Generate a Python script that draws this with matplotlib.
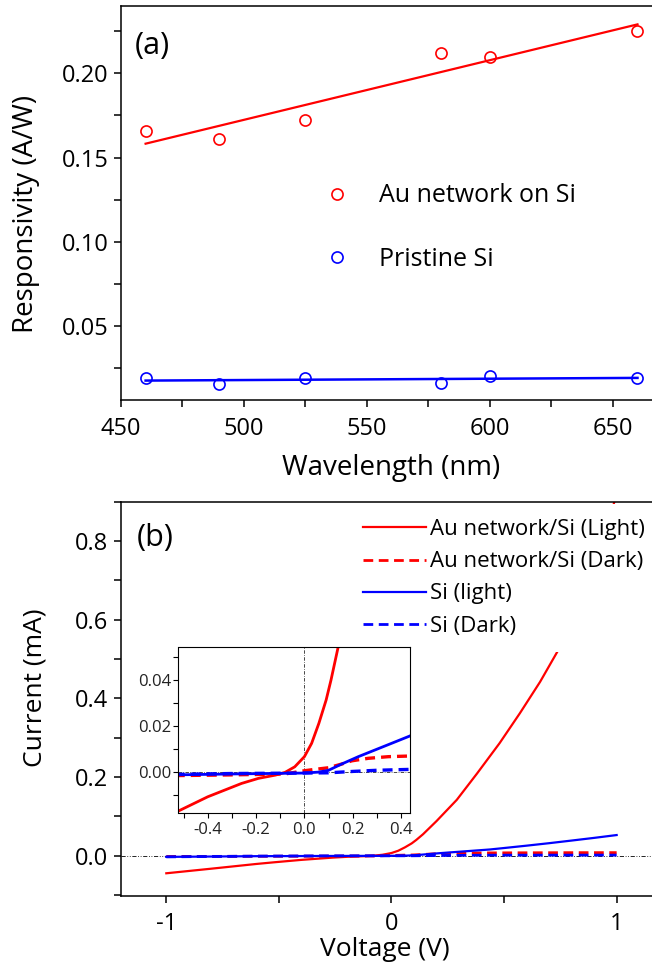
# Responsivity vs wavelength (a) and I-V curves (b)
import numpy as np
import matplotlib
matplotlib.use('Agg')
import matplotlib.pyplot as plt
from matplotlib.ticker import MultipleLocator

plt.rcParams['font.family'] = ['Open Sans', 'DejaVu Sans']

# (a) responsivity data
wavelength = [460, 490, 525, 580, 600, 660]
resp_au = [0.166, 0.161, 0.172, 0.212, 0.210, 0.225]
resp_si = [0.0192, 0.0153, 0.0192, 0.0163, 0.0204, 0.0192]

# (b) I-V data (V, mA)
v_au_light = [-1.0, -0.8, -0.6, -0.52, -0.40, -0.26, -0.19, -0.12, -0.08, -0.04,
              0.0, 0.03, 0.06, 0.09, 0.11, 0.14, 0.2, 0.29, 0.38, 0.48, 0.57,
              0.66, 0.76, 0.85, 0.92, 1.0]
i_au_light = [-0.0447, -0.033, -0.021, -0.0167, -0.0106, -0.0048, -0.0026, -0.0012,
              0.0, 0.0024, 0.0068, 0.0126, 0.0213, 0.0314, 0.040, 0.0545, 0.088,
              0.142, 0.209, 0.286, 0.362, 0.442, 0.542, 0.65, 0.76, 0.92]

v_au_dark = [-1.0, -0.6, -0.3, -0.08, 0.0, 0.044, 0.1, 0.154, 0.196, 0.265, 0.347,
             0.44, 0.6, 0.8, 1.0]
i_au_dark = [-0.002, -0.0015, -0.0011, -0.0007, 0.0007, 0.0013, 0.002, 0.0036,
             0.005, 0.0061, 0.0068, 0.0071, 0.0074, 0.0077, 0.0078]

v_si_light = [-1.0, -0.6, -0.3, 0.0, 0.058, 0.1, 0.154, 0.223, 0.292, 0.361,
              0.437, 0.5, 0.6, 0.7, 0.8, 0.9, 1.0]
i_si_light = [-0.003, -0.0012, -0.0007, -0.0003, 0.0001, 0.0009, 0.0036, 0.0068,
              0.0097, 0.0126, 0.0158, 0.0195, 0.0255, 0.0318, 0.0385, 0.0453, 0.0525]

v_si_dark = [-1.0, -0.6, -0.3, 0.0, 0.1, 0.2, 0.3, 0.44, 0.7, 1.0]
i_si_dark = [-0.003, -0.001, -0.0005, -0.0003, -0.0002, 0.0004, 0.0009, 0.0013,
             0.0014, 0.0015]

labels_b = ['Au network/Si (Light)', 'Au network/Si (Dark)', 'Si (light)', 'Si (Dark)']

RED = '#ff0000'
BLUE = '#0000ff'
DASH = (0, (3.5, 2.0))

W, H = 652, 968
fig = plt.figure(figsize=(W / 100, H / 100), dpi=100)
ax1 = fig.add_axes([121 / W, 1 - 400 / H, 531 / W, 394 / H])
ax2 = fig.add_axes([120.6 / W, 1 - 895.7 / H, 531.4 / W, 394 / H])
axin = fig.add_axes([178.5 / W, 1 - 812.7 / H, 231.5 / W, 166 / H])


def style_axes(ax, lw=1.1, tlen=5, fs=17, xpad=7, ypad=4):
    ax.spines['right'].set_visible(False)
    for s in ['left', 'bottom', 'top']:
        ax.spines[s].set_linewidth(lw)
        ax.spines[s].set_zorder(6)
    ax.tick_params(which='both', direction='out', length=tlen, width=lw,
                   labelsize=fs, top=False, right=False)
    ax.tick_params(axis='x', pad=xpad)
    ax.tick_params(axis='y', pad=ypad)


# ---- (a)
wl = np.array(wavelength)
fit_au = np.polyfit(wl, resp_au, 1)
fit_si = np.polyfit(wl, resp_si, 1)
ax1.plot(wl, np.polyval(fit_au, wl), color=RED, lw=1.6)
ax1.plot(wl, np.polyval(fit_si, wl), color=BLUE, lw=1.8)
p_au, = ax1.plot(wl, resp_au, 'o', mfc='none', mec=RED, ms=8, mew=1.2)
p_si, = ax1.plot(wl, resp_si, 'o', mfc='none', mec=BLUE, ms=8, mew=1.2)

ax1.set_xlim(450, 665.9)
ax1.set_ylim(0.006, 0.240)
ax1.xaxis.set_major_locator(MultipleLocator(50))
ax1.xaxis.set_minor_locator(MultipleLocator(25))
ax1.yaxis.set_major_locator(MultipleLocator(0.05))
ax1.yaxis.set_minor_locator(MultipleLocator(0.025))
ax1.yaxis.set_major_formatter(lambda v, p: f'{v:.2f}')
style_axes(ax1)
ax1.set_xlabel('Wavelength (nm)', fontsize=20)
ax1.set_ylabel('Responsivity (A/W)', fontsize=20)
ax1.xaxis.set_label_coords(0.508, -0.137)
ax1.yaxis.set_label_coords(-0.153, 0.473)
ax1.text(0.026, 0.898, '(a)', transform=ax1.transAxes, fontsize=22, va='center')
ax1.legend([p_au, p_si], ['Au network on Si', 'Pristine Si'], loc='center left',
           bbox_to_anchor=(0.3716, 0.438), frameon=False, fontsize=18,
           handlelength=1.5, handletextpad=0.93, labelspacing=1.53,
           borderpad=0, borderaxespad=0, numpoints=1)

# ---- (b)
ax2.axhline(0, color='black', lw=0.6, ls=(0, (5, 2, 1, 2, 1, 2)), zorder=1)
l1, = ax2.plot(v_au_light, i_au_light, color=RED, lw=1.6)
l2, = ax2.plot(v_au_dark, i_au_dark, color=RED, lw=2.0, ls=DASH)
l3, = ax2.plot(v_si_light, i_si_light, color=BLUE, lw=1.6)
l4, = ax2.plot(v_si_dark, i_si_dark, color=BLUE, lw=2.0, ls=DASH)
ax2.set_xlim(-1.203, 1.157)
ax2.set_ylim(-0.1017, 0.9)
ax2.xaxis.set_major_locator(MultipleLocator(1))
ax2.xaxis.set_minor_locator(MultipleLocator(0.5))
ax2.yaxis.set_major_locator(MultipleLocator(0.2))
ax2.yaxis.set_minor_locator(MultipleLocator(0.1))
ax2.xaxis.set_major_formatter(lambda v, p: f'{v:.0f}')
ax2.yaxis.set_major_formatter(lambda v, p: f'{v:.1f}')
style_axes(ax2)
ax2.set_xlabel('Voltage (V)', fontsize=19)
ax2.set_ylabel('Current (mA)', fontsize=19)
ax2.xaxis.set_label_coords(0.4975, -0.104)
ax2.yaxis.set_label_coords(-0.137, 0.528)
ax2.text(0.031, 0.908, '(b)', transform=ax2.transAxes, fontsize=22, va='center')
leg = ax2.legend([l1, l2, l3, l4], labels_b, loc='upper left',
                 bbox_to_anchor=(0.4276, 0.995), fontsize=16, handlelength=2.82,
                 handletextpad=0.18, labelspacing=0.5, borderpad=0.7,
                 borderaxespad=0, fancybox=False, framealpha=1)
leg.get_frame().set_facecolor('white')
leg.get_frame().set_edgecolor('none')

# ---- inset
axin.axhline(0, color='black', lw=0.5, ls=(0, (5, 2, 1, 2)), zorder=1)
axin.axvline(0, color='black', lw=0.5, ls=(0, (5, 2, 1, 2)), zorder=1)
axin.plot(v_au_light, i_au_light, color=RED, lw=2.0)
axin.plot(v_au_dark, i_au_dark, color=RED, lw=2.4, ls=(0, (3, 1.8)))
axin.plot(v_si_light, i_si_light, color=BLUE, lw=2.0)
axin.plot(v_si_dark, i_si_dark, color=BLUE, lw=2.4, ls=(0, (3, 1.8)))
axin.set_xlim(-0.521, 0.437)
axin.set_ylim(-0.0175, 0.0545)
axin.xaxis.set_major_locator(MultipleLocator(0.2))
axin.xaxis.set_minor_locator(MultipleLocator(0.1))
axin.yaxis.set_major_locator(MultipleLocator(0.02))
axin.yaxis.set_minor_locator(MultipleLocator(0.01))
axin.xaxis.set_major_formatter(lambda v, p: f'{v:.1f}')
axin.yaxis.set_major_formatter(lambda v, p: f'{v:.2f}')
for s in axin.spines.values():
    s.set_linewidth(0.8)
axin.tick_params(which='both', direction='out', length=3.5, width=0.8,
                 labelsize=12, labelcolor='#222222')
axin.tick_params(axis='x', pad=3)
axin.tick_params(axis='y', pad=1.5)

fig.savefig('out.png', dpi=100)
